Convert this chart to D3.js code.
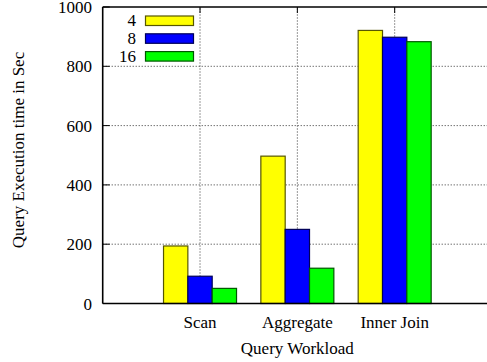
<!DOCTYPE html>
<html>
<head>
<meta charset="utf-8">
<script src="https://cdn.jsdelivr.net/npm/d3@7"></script>
<style>
  body { margin: 0; background: #fff; }
  svg text { font-family: "Liberation Serif", "Times New Roman", serif; font-size: 17px; fill: #000; }
</style>
</head>
<body>
<svg id="chart" width="487" height="362"></svg>
<script>
// données
var categories = ["Scan", "Aggregate", "Inner Join"];
var seriesNames = ["4", "8", "16"];
var seriesColors = ["#ffff00", "#0000ff", "#00ff00"];
var values4 = [194, 497, 921];
var values8 = [92, 250, 898];
var values16 = [51, 119, 883];
var yTicks = [0, 200, 400, 600, 800, 1000];

var series = [values4, values8, values16];

var svg = d3.select("#chart");

// échelles (x : -1 .. 3, la première case reste vide)
var x = d3.scaleLinear().domain([-1, 3]).range([102.7, 492]);
var y = d3.scaleLinear().domain([0, 1000]).range([303.5, 7]);
var barW = 0.25; // largeur d'une barre en unités de x

// grille pointillée
var grid = svg.append("g").attr("class", "grid");
grid.selectAll("line.h")
  .data(yTicks.filter(function(d) { return d > 0 && d < 1000; }))
  .enter().append("line")
  .attr("x1", x(-1)).attr("x2", x(3))
  .attr("y1", function(d) { return y(d); })
  .attr("y2", function(d) { return y(d); })
  .style("stroke", "#333").style("stroke-width", 1)
  .style("stroke-dasharray", "1,2");

grid.selectAll("line.v")
  .data(categories)
  .enter().append("line")
  .attr("x1", function(d, i) { return x(i); })
  .attr("x2", function(d, i) { return x(i); })
  .attr("y1", y(0)).attr("y2", y(1000))
  .style("stroke", "#333").style("stroke-width", 1)
  .style("stroke-dasharray", "1,2");

// barres
series.forEach(function(vals, s) {
  svg.append("g").selectAll("rect")
    .data(vals)
    .enter().append("rect")
    .attr("x", function(d, i) { return x(i - 1.5 * barW + s * barW); })
    .attr("y", function(d) { return y(d); })
    .attr("width", x(barW) - x(0))
    .attr("height", function(d) { return y(0) - y(d); })
    .style("fill", seriesColors[s])
    .style("stroke", d3.color(seriesColors[s]).darker(3))
    .style("stroke-width", 1.2);
});

// axes : bordure gauche, bas, haut
var border = svg.append("g");
border.append("line")
  .attr("x1", x(-1)).attr("x2", x(-1)).attr("y1", y(0)).attr("y2", y(1000))
  .style("stroke", "#000").style("stroke-width", 1.6);
border.append("line")
  .attr("x1", x(-1)).attr("x2", x(3)).attr("y1", y(0)).attr("y2", y(0))
  .style("stroke", "#000").style("stroke-width", 1.6);
border.append("line")
  .attr("x1", x(-1)).attr("x2", x(3)).attr("y1", y(1000)).attr("y2", y(1000))
  .style("stroke", "#000").style("stroke-width", 1.6);

// graduations y (vers l'intérieur) + libellés
border.selectAll("line.yt")
  .data(yTicks)
  .enter().append("line")
  .attr("x1", x(-1)).attr("x2", x(-1) + 7)
  .attr("y1", function(d) { return y(d); })
  .attr("y2", function(d) { return y(d); })
  .style("stroke", "#000").style("stroke-width", 1);

svg.append("g").selectAll("text")
  .data(yTicks)
  .enter().append("text")
  .attr("x", 92)
  .attr("y", function(d) { return y(d) + 6; })
  .attr("text-anchor", "end")
  .text(function(d) { return d; });

// graduations x en haut (miroir)
border.selectAll("line.xt")
  .data(categories)
  .enter().append("line")
  .attr("x1", function(d, i) { return x(i); })
  .attr("x2", function(d, i) { return x(i); })
  .attr("y1", y(1000)).attr("y2", y(1000) + 6)
  .style("stroke", "#000").style("stroke-width", 1);

// libellés des catégories
svg.append("g").selectAll("text")
  .data(categories)
  .enter().append("text")
  .attr("x", function(d, i) { return x(i); })
  .attr("y", 328)
  .attr("text-anchor", "middle")
  .text(function(d) { return d; });

// titres des axes
svg.append("text")
  .attr("x", x(1))
  .attr("y", 354)
  .attr("text-anchor", "middle")
  .text("Query Workload");

svg.append("text")
  .attr("transform", "translate(24,150) rotate(-90)")
  .attr("text-anchor", "middle")
  .text("Query Execution time in Sec");

// légende
var legend = svg.append("g");
seriesNames.forEach(function(name, s) {
  var ly = 16 + s * 17.8;
  legend.append("rect")
    .attr("x", 145.5).attr("y", ly)
    .attr("width", 48).attr("height", 9.5)
    .style("fill", seriesColors[s])
    .style("stroke", d3.color(seriesColors[s]).darker(3))
    .style("stroke-width", 1.2);
  legend.append("text")
    .attr("x", 136)
    .attr("y", ly + 10)
    .attr("text-anchor", "end")
    .text(name);
});
</script>
</body>
</html>
